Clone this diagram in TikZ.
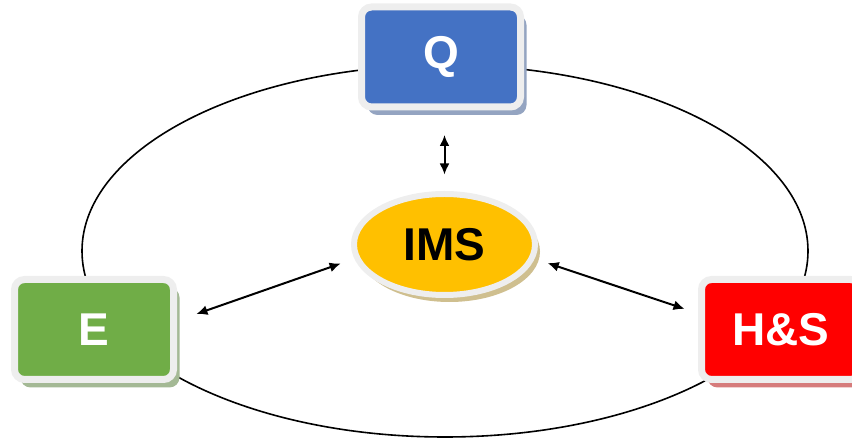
\documentclass[tikz,border=0pt]{standalone}
\usepackage{fontspec}
\setmainfont{Liberation Sans}
\usetikzlibrary{calc,arrows.meta,shapes.geometric,shadows}

\definecolor{qblue}{HTML}{4472C4}
\definecolor{egreen}{HTML}{70AD47}
\definecolor{hsred}{HTML}{FF0000}
\definecolor{imsyellow}{HTML}{FFC000}
\definecolor{rim}{HTML}{EEEEEE}

\tikzset{
	area/.style={rectangle, rounded corners=5pt, fill=#1, draw=rim, line width=3.5pt,
		minimum width=79.5pt, minimum height=50pt, text=white,
		font=\fontsize{23}{23}\selectfont\bfseries,
		drop shadow={shadow xshift=3pt, shadow yshift=-4pt, fill=#1!35!lightgray, opacity=1}},
	hub/.style={ellipse, fill=imsyellow, draw=rim, line width=3pt, inner sep=0pt,
		minimum width=90.5pt, minimum height=50.5pt, text=black,
		font=\fontsize{23}{23}\selectfont\bfseries,
		drop shadow={shadow xshift=2.5pt, shadow yshift=-3.5pt, fill=imsyellow!25!lightgray, opacity=1}},
	link/.style={<->, line width=1pt}
}

\begin{document}
\begin{tikzpicture}[>={Latex[length=5.5pt,width=5pt]}, x=0.5pt, y=-0.5pt]
	\useasboundingbox (0,0) rectangle (852,442);

	% the ring behind the boxes
	\draw[line width=0.8pt] (445,251) ellipse [x radius=181.5pt, y radius=93pt];

	% the four parts
	\node[area=qblue] (Q) at (441,57) {Q};
	\node[area=egreen] (E) at (94,329.5) {E};
	\node[area=hsred] (HS) at (781,329.5) {H\&S};
	\node[hub] (IMS) at (444.5,244.5) {IMS};

	% links to the centre
	\draw[link, shorten <=12.25pt, shorten >=8.25pt] (IMS.north |- Q.south) -- (IMS.north);
	\draw[link, shorten <=10.3pt, shorten >=7.3pt] (E.6) -- (IMS.189);
	\draw[link, shorten <=6.9pt, shorten >=7.1pt] (IMS.351) -- (HS.169);

\end{tikzpicture}
\end{document}
